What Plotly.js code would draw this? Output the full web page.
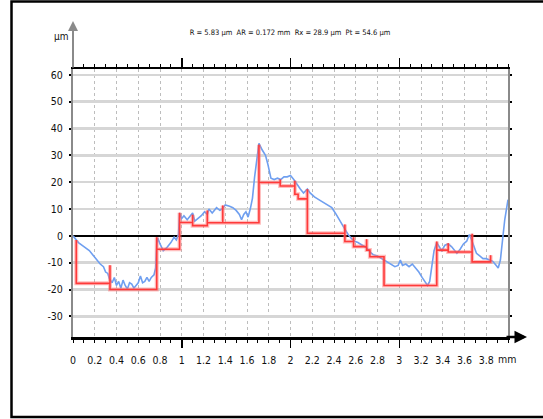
<!DOCTYPE html>
<html>
<head>
<meta charset="utf-8">
<script src="https://cdn.plot.ly/plotly-3.0.1.min.js"></script>
<style>html,body{margin:0;padding:0;background:#fff;}#chart{width:543px;height:419px;}</style>
</head>
<body>
<div id="chart"></div>
<script>
// Profile (blue) – position in mm, height in µm
const profileX = [0.00,0.05,0.10,0.15,0.20,0.25,0.28,0.30,0.32,0.335,0.36,0.38,0.40,0.42,0.44,0.46,0.48,0.50,0.52,0.54,0.56,0.58,0.60,0.62,0.64,0.66,0.68,0.70,0.72,0.745,0.76,0.77,0.78,0.80,0.83,0.86,0.88,0.90,0.93,0.95,0.97,0.98,1.00,1.02,1.05,1.08,1.10,1.12,1.15,1.18,1.21,1.235,1.25,1.28,1.32,1.35,1.37,1.40,1.44,1.47,1.50,1.53,1.55,1.57,1.59,1.61,1.63,1.65,1.67,1.69,1.71,1.74,1.77,1.79,1.82,1.85,1.88,1.91,1.94,1.97,2.00,2.03,2.06,2.09,2.12,2.155,2.18,2.22,2.26,2.30,2.34,2.38,2.42,2.46,2.50,2.53,2.56,2.59,2.62,2.66,2.70,2.73,2.76,2.80,2.84,2.88,2.92,2.96,2.99,3.01,3.03,3.06,3.09,3.12,3.15,3.18,3.21,3.24,3.26,3.28,3.30,3.32,3.345,3.37,3.39,3.42,3.45,3.48,3.51,3.53,3.56,3.59,3.62,3.645,3.67,3.69,3.71,3.74,3.77,3.80,3.83,3.86,3.89,3.91,3.93,3.95,3.97,4.00];
const profileY = [0.0,-2.5,-4.0,-5.5,-8.0,-10.5,-11.5,-13.5,-14.0,-16.0,-17.5,-15.5,-18.5,-17.0,-19.5,-16.5,-18.5,-19.8,-17.5,-18.0,-19.5,-18.5,-17.5,-15.0,-17.5,-17.0,-15.5,-17.0,-15.5,-14.5,-12.0,-3.0,-0.8,-3.0,-5.5,-4.5,-3.5,-2.5,-0.5,-1.5,0.5,8.5,6.5,7.5,6.0,7.5,8.5,5.5,6.5,7.5,9.0,8.0,10.0,8.5,10.5,9.5,10.0,11.5,11.0,10.5,9.5,8.0,6.0,8.0,9.0,7.0,10.0,14.0,22.0,29.0,34.5,32.0,30.0,27.0,21.5,21.0,21.5,21.0,22.0,22.0,22.5,21.0,19.0,17.5,16.0,17.5,16.0,14.5,13.5,12.5,11.5,10.5,8.0,5.0,2.5,0.5,-1.0,-2.0,-2.5,-3.5,-4.5,-6.0,-7.0,-7.5,-8.5,-9.5,-10.5,-11.5,-11.0,-9.0,-11.0,-10.5,-11.5,-10.5,-12.0,-13.5,-15.5,-17.5,-18.5,-17.0,-12.0,-5.5,-2.5,-4.5,-5.5,-3.5,-3.0,-4.0,-5.5,-6.5,-5.0,-3.0,-2.0,0.5,-2.0,-4.5,-6.5,-7.5,-8.5,-8.5,-9.0,-9.5,-11.0,-12.0,-9.0,0.0,6.0,13.5];

// Motif step line (red)
const motifX = [0.03,0.03,0.34,0.34,0.34,0.77,0.77,0.77,0.98,0.98,0.98,1.10,1.10,1.10,1.235,1.235,1.235,1.377,1.377,1.377,1.71,1.71,1.71,1.905,1.905,1.905,2.04,2.04,2.04,2.07,2.07,2.155,2.155,2.155,2.50,2.50,2.50,2.58,2.58,2.58,2.70,2.70,2.70,2.73,2.73,2.86,2.86,3.345,3.345,3.345,3.45,3.45,3.45,3.67,3.67,3.67,3.84,3.84,3.84];
const motifY = [-1.5,-17.7,-17.7,-11.0,-20.0,-20.0,-0.5,-5.0,-5.0,8.6,5.0,5.0,7.9,3.8,3.8,9.5,4.9,4.9,11.3,4.9,4.9,34.0,19.9,19.9,21.0,18.6,18.6,20.5,15.5,15.5,13.8,13.8,17.4,1.0,1.0,4.2,-2.1,-2.1,-0.5,-4.0,-4.0,-1.3,-5.3,-5.3,-7.8,-7.8,-18.5,-18.5,-2.1,-5.3,-5.3,-2.8,-6.0,-6.0,0.8,-9.7,-9.7,-7.2,-9.7];

const xTickVals = [0,0.2,0.4,0.6,0.8,1,1.2,1.4,1.6,1.8,2,2.2,2.4,2.6,2.8,3,3.2,3.4,3.6,3.8];
const xTickText = ['0','0.2','0.4','0.6','0.8','1','1.2','1.4','1.6','1.8','2','2.2','2.4','2.6','2.8','3','3.2','3.4','3.6','3.8'];
const xMajorTicks = [1,2,3];
const yTickVals = [-30,-20,-10,0,10,20,30,40,50,60];
const yTickText = ['-30','-20','-10','0','10','20','30','40','50','60'];
const titleText = 'R = 5.83 µm &nbsp;AR = 0.172 mm &nbsp;Rx = 28.9 µm &nbsp;Pt = 54.6 µm';

const FONT = 'DejaVu Sans Condensed, Liberation Sans Narrow, Arial Narrow, sans-serif';

const traces = [
  {x: motifX, y: motifY, xaxis: 'x2', type: 'scatter', mode: 'lines',
   line: {color: 'rgba(255,110,110,0.45)', width: 4}, hoverinfo: 'skip'},
  {x: profileX, y: profileY, type: 'scatter', mode: 'lines',
   line: {color: '#6f9ff0', width: 1.6}},
  {x: motifX, y: motifY, type: 'scatter', mode: 'lines',
   line: {color: '#ff1010', width: 1.6}}
];

const W = 435, H = 268; // plot area size in px
const layout = {
  width: 543, height: 419,
  margin: {l: 73, r: 35, t: 69, b: 82, pad: 0},
  paper_bgcolor: '#ffffff', plot_bgcolor: '#ffffff',
  showlegend: false,
  font: {family: FONT, size: 10, color: '#111'},
  title: {text: titleText, x: 0.534, xanchor: 'center', y: 1 - 32/419, yanchor: 'middle',
          font: {family: FONT, size: 7.5, color: '#111'}},
  xaxis: {
    range: [0, 4], tickmode: 'array', tickvals: xTickVals, ticktext: xTickText,
    showgrid: true, gridcolor: '#bdbdbd', gridwidth: 1, griddash: 'dot',
    showline: true, linecolor: '#000', linewidth: 2.5, mirror: 'ticks',
    ticks: 'outside', ticklen: 3, tickwidth: 1, tickcolor: '#000',
    minor: {dtick: 0.1, tick0: 0, ticks: 'outside', ticklen: 3, tickwidth: 1, tickcolor: '#000', showgrid: false},
    ticklabelstandoff: 9,
    tickfont: {family: FONT, size: 10.5, color: '#111'},
    zeroline: false, fixedrange: true
  },
  xaxis2: {
    range: [0, 4], overlaying: 'x', side: 'bottom', tickmode: 'array', tickvals: xMajorTicks,
    showticklabels: false, showgrid: false, showline: false, zeroline: false,
    ticks: 'outside', ticklen: 10, tickwidth: 1.5, tickcolor: '#000', mirror: 'ticks'
  },
  yaxis: {
    range: [-37.7, 62.2], tickmode: 'array', tickvals: yTickVals, ticktext: yTickText,
    showgrid: true, gridcolor: '#d6d6d6', gridwidth: 2.5,
    showline: true, linecolor: '#8a8a8a', linewidth: 2, mirror: 'ticks',
    ticks: 'outside', ticklen: 2, tickwidth: 2, tickcolor: '#000',
    ticklabelstandoff: 4,
    tickfont: {family: FONT, size: 10.5, color: '#111'},
    zeroline: true, zerolinecolor: '#000', zerolinewidth: 2.5, fixedrange: true
  },
  shapes: [
    {type: 'rect', xref: 'paper', yref: 'paper',
     x0: (11.5 - 73)/W, x1: (560 - 73)/W, y0: (337 - 417)/H, y1: (337 - 1.5)/H,
     line: {color: '#000', width: 2.5}, fillcolor: 'rgba(0,0,0,0)'}
  ],
  annotations: [
    {xref: 'paper', yref: 'paper', x: 0, y: (337 - 21)/H, ax: 0, ay: 48,
     showarrow: true, arrowhead: 2, arrowsize: 1, arrowwidth: 2, arrowcolor: '#8a8a8a', text: ''},
    {xref: 'paper', yref: 'paper', x: (527 - 73)/W, y: 0, ax: -22, ay: 0,
     showarrow: true, arrowhead: 2, arrowsize: 1, arrowwidth: 2.5, arrowcolor: '#000', text: ''},
    {xref: 'paper', yref: 'paper', x: (61 - 73)/W, y: (337 - 36)/H, text: 'µm', showarrow: false,
     xanchor: 'center', yanchor: 'middle', font: {family: FONT, size: 10, color: '#111'}},
    {xref: 'x', yref: 'paper', x: 3.8, xshift: 10, y: 0, yshift: -22, text: 'mm', showarrow: false,
     xanchor: 'left', yanchor: 'middle', font: {family: FONT, size: 10.5, color: '#111'}}
  ]
};

Plotly.newPlot('chart', traces, layout, {displayModeBar: false, staticPlot: true});
</script>
</body>
</html>
